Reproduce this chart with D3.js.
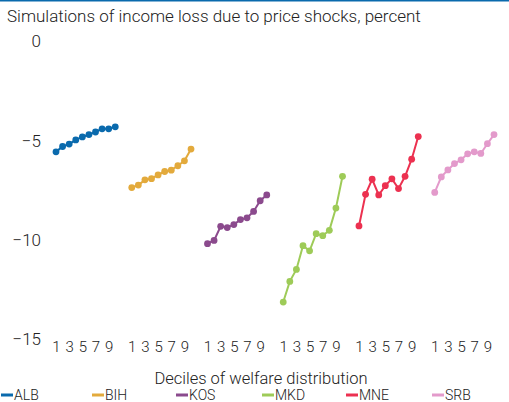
<!DOCTYPE html>
<html>
<head>
<meta charset="utf-8">
<script src="https://cdn.jsdelivr.net/npm/d3@7"></script>
<style>
  body { margin: 0; background: #fff; }
  text { font-family: Roboto, "Noto Sans", sans-serif; font-weight: 300; fill: #222; }
</style>
</head>
<body>
<div id="chart"></div>
<script>
// chart values
var countries = ["ALB", "BIH", "KOS", "MKD", "MNE", "SRB"];
var deciles = [1, 2, 3, 4, 5, 6, 7, 8, 9, 10];
var tickDeciles = [1, 3, 5, 7, 9];
var yTicks = [0, -5, -10, -15];
var colors = ["#0a6aad", "#e3aa3c", "#8b4a8d", "#9ecb58", "#ec3150", "#e39acb"];

var ALB = [-5.58, -5.31, -5.19, -4.98, -4.83, -4.71, -4.58, -4.42, -4.42, -4.32];
var BIH = [-7.38, -7.25, -6.99, -6.93, -6.74, -6.57, -6.50, -6.28, -6.03, -5.44];
var KOS = [-10.20, -10.04, -9.33, -9.39, -9.24, -8.99, -8.90, -8.58, -8.04, -7.75];
var MKD = [-13.14, -12.10, -11.50, -10.30, -10.56, -9.70, -9.80, -9.53, -8.41, -6.81];
var MNE = [-9.31, -7.72, -6.96, -7.75, -7.28, -6.94, -7.43, -6.81, -5.95, -4.81];
var SRB = [-7.62, -6.84, -6.49, -6.17, -5.98, -5.68, -5.58, -5.66, -5.17, -4.71];

var series = [ALB, BIH, KOS, MKD, MNE, SRB];

var svgWidth = 509;
var svgHeight = 402;

var svg = d3.select("#chart")
    .append("svg")
    .attr("width", svgWidth)
    .attr("height", svgHeight);

// blue rule on top
svg.append("rect")
    .attr("x", 0).attr("y", 0)
    .attr("width", svgWidth).attr("height", 1.5)
    .attr("fill", "#0a6aad");

svg.append("text")
    .attr("x", 7)
    .attr("y", 22)
    .attr("font-size", "17px")
    .text("Simulations of income loss due to price shocks, percent");

// each country gets 10 deciles plus a gap
var groupStep = 11.5;
var xScale = d3.scaleLinear()
    .domain([0, (countries.length - 1) * groupStep + 9])
    .range([56, 494]);
var xPos = (g, d) => xScale(g * groupStep + d - 1);

var yScale = d3.scaleLinear()
    .domain([-15, 0])
    .range([339, 41]);

// y axis labels, no line
var yAxis = d3.axisLeft(yScale).tickValues(yTicks).tickSize(0).tickPadding(0);
var yG = svg.append("g")
    .attr("transform", "translate(41,0)")
    .call(yAxis);
yG.attr("font-family", null);
yG.select(".domain").remove();
yG.selectAll("text")
    .attr("font-size", "17px")
    .attr("fill", "#222")
    .attr("dy", "0.35em");

// x tick labels for every country group
countries.forEach(function(c, g) {
    var sx = d3.scaleLinear().domain([1, 10]).range([xPos(g, 1), xPos(g, 10)]);
    var xg = svg.append("g")
        .attr("transform", "translate(0,340)")
        .call(d3.axisBottom(sx).tickValues(tickDeciles).tickSize(0).tickPadding(0).tickFormat(d3.format("d")));
    xg.attr("font-family", null);
    xg.select(".domain").remove();
    xg.selectAll("text")
        .attr("font-size", "15px")
        .attr("fill", "#222")
        .attr("dy", "0.8em");
});

// lines and dots
var line = d3.line()
    .x(d => d.x)
    .y(d => yScale(d.v));

series.forEach(function(vals, g) {
    var pts = vals.map((v, i) => ({ x: xPos(g, deciles[i]), v: v }));
    svg.append("path")
        .datum(pts)
        .attr("d", line)
        .attr("fill", "none")
        .attr("stroke", colors[g])
        .attr("stroke-width", 2);
    svg.selectAll(".dot" + g)
        .data(pts)
        .enter()
        .append("circle")
        .attr("cx", d => d.x)
        .attr("cy", d => yScale(d.v))
        .attr("r", 3.4)
        .attr("fill", colors[g]);
});

svg.append("text")
    .attr("x", 261)
    .attr("y", 384)
    .attr("text-anchor", "middle")
    .attr("font-size", "16.5px")
    .text("Deciles of welfare distribution");

// legend
var legendX = [1, 92, 176, 262, 346, 432];
var legend = svg.selectAll(".legend")
    .data(countries)
    .enter()
    .append("g")
    .attr("transform", (d, i) => `translate(${legendX[i]},395)`);
legend.append("line")
    .attr("x1", 0).attr("x2", 12)
    .attr("stroke", (d, i) => colors[i])
    .attr("stroke-width", 3);
legend.append("text")
    .attr("x", 13)
    .attr("y", 4.5)
    .attr("font-size", "14px")
    .text(d => d);
</script>
</body>
</html>
